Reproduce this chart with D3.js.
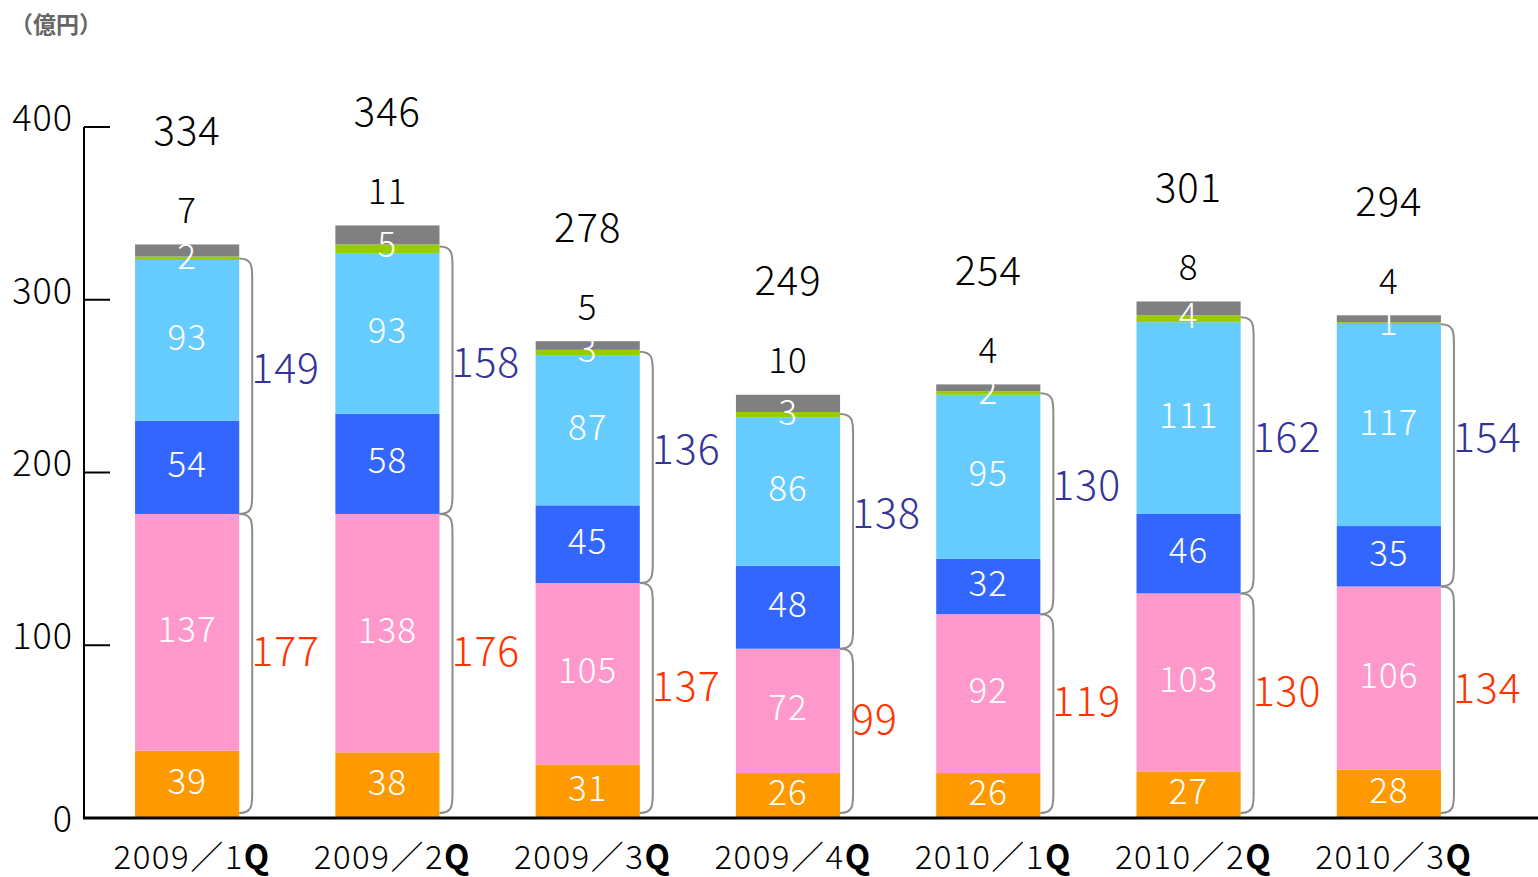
<!DOCTYPE html>
<html><head><meta charset="utf-8">
<script src="https://cdn.jsdelivr.net/npm/d3@7"></script>
<style>
body{margin:0;background:#fff;}
svg{display:block;}
text{font-family:"Noto Sans CJK JP","Noto Sans",sans-serif;}
</style></head>
<body><svg id="c" width="1538" height="877"></svg>
<script>
const categories = ["2009／1Q","2009／2Q","2009／3Q","2009／4Q","2010／1Q","2010／2Q","2010／3Q"];
const orange    = [39, 38, 31, 26, 26, 27, 28];
const pink      = [137,138,105,72, 92,103,106];
const blue      = [54, 58, 45, 48, 32, 46, 35];
const lightblue = [93, 93, 87, 86, 95,111,117];
const green     = [2, 5, 3, 3, 2, 4, 1];
const gray      = [7, 11, 5, 10, 4, 8, 4];
const totals    = [334,346,278,249,254,301,294];
const lowerSums = [177,176,137,99,119,130,134];
const upperSums = [149,158,136,138,130,162,154];
const yTicks    = [0,100,200,300,400];
const unitLabel = "（億円）";

const seriesList = [
  {key:"orange", vals:orange, color:"#ff9900"},
  {key:"pink", vals:pink, color:"#ff99cc"},
  {key:"blue", vals:blue, color:"#3366ff"},
  {key:"lightblue", vals:lightblue, color:"#66ccff"},
  {key:"green", vals:green, color:"#99cc00"},
  {key:"gray", vals:gray, color:"#808080"}
];

const svg = d3.select("#c");
const x = d3.scaleBand().domain(categories).range([87,1489]).paddingInner(0.48).paddingOuter(0.24);
const y = d3.scaleLinear().domain([0,400]).range([818,127]);

const rows = categories.map((c,i)=>{
  const r={cat:c}; seriesList.forEach(s=>r[s.key]=s.vals[i]); return r;
});
const stack = d3.stack().keys(seriesList.map(s=>s.key))(rows);

const g = svg.append("g");
stack.forEach((layer,li)=>{
  g.selectAll(null).data(layer).enter().append("rect")
    .attr("x",d=>x(d.data.cat))
    .attr("width",x.bandwidth())
    .attr("y",d=>y(d[1]))
    .attr("height",d=>y(d[0])-y(d[1]))
    .attr("fill",seriesList[li].color);
});

// segment labels (white)
stack.forEach((layer,li)=>{
  const key = seriesList[li].key;
  if(key==="gray") return;
  g.selectAll(null).data(layer).enter().append("text")
    .attr("x",d=>x(d.data.cat)+x.bandwidth()/2)
    .attr("y",d=> key==="green" ? y(d[1]) : (y(d[0])+y(d[1]))/2 - 3)
    .attr("dy","0.36em")
    .attr("text-anchor","middle")
    .attr("fill","#fff").attr("font-size",35).attr("font-weight",300).attr("letter-spacing",1)
    .text(d=>d.data[key]);
});

// gray labels and totals above bars
categories.forEach((c,i)=>{
  const top = y(stack[5][i][1]);
  const cx = x(c)+x.bandwidth()/2;
  g.append("text").attr("x",cx).attr("y",top-34).attr("dy","0.36em")
    .attr("text-anchor","middle").attr("font-size",35).attr("font-weight",300).attr("fill","#000").attr("letter-spacing",1)
    .text(gray[i]);
  g.append("text").attr("x",cx).attr("y",top-114).attr("dy","0.36em")
    .attr("text-anchor","middle").attr("font-size",40).attr("font-weight",300).attr("fill","#000").attr("letter-spacing",1)
    .text(totals[i]);
});

// brackets
function bracket(x0, yt, yb){
  const w=13, r=20;
  return `M${x0},${yt} C${x0+w},${yt} ${x0+w},${yt+r*0.4} ${x0+w},${yt+r} L${x0+w},${yb-r} C${x0+w},${yb-r*0.4} ${x0+w},${yb} ${x0},${yb}`;
}
categories.forEach((c,i)=>{
  const x0 = x(c)+x.bandwidth();
  const lowTop = y(stack[1][i][1]);
  const lowBot = y(stack[0][i][0])-5;
  const upTop = y(stack[4][i][1])+2;
  const upBot = lowTop;
  g.append("path").attr("d",bracket(x0,upTop,upBot)).attr("fill","none").attr("stroke","#8c8c8c").attr("stroke-width",2);
  g.append("path").attr("d",bracket(x0,lowTop,lowBot)).attr("fill","none").attr("stroke","#8c8c8c").attr("stroke-width",2);
  g.append("text").attr("x",x0+12).attr("y",(upTop+upBot)/2-18).attr("dy","0.36em")
    .attr("font-size",41).attr("font-weight",300).attr("fill","#333399").attr("letter-spacing",1).text(upperSums[i]);
  g.append("text").attr("x",x0+12).attr("y",(lowTop+lowBot)/2-12).attr("dy","0.36em")
    .attr("font-size",41).attr("font-weight",300).attr("fill","#ff3300").attr("letter-spacing",1).text(lowerSums[i]);
});

// axes
const ax = svg.append("g");
ax.append("line").attr("x1",84).attr("x2",84).attr("y1",y(400)).attr("y2",y(0)).attr("stroke","#000").attr("stroke-width",2);
ax.append("line").attr("x1",83).attr("x2",1538).attr("y1",y(0)).attr("y2",y(0)).attr("stroke","#000").attr("stroke-width",3);
ax.selectAll(null).data(yTicks.filter(t=>t>0)).enter().append("line")
  .attr("x1",84).attr("x2",110).attr("y1",d=>y(d)).attr("y2",d=>y(d)).attr("stroke","#000").attr("stroke-width",2);
ax.selectAll(null).data(yTicks).enter().append("text")
  .attr("x",73).attr("y",d=>y(d)-9+(d===0?10:0)).attr("dy","0.36em").attr("text-anchor","end")
  .attr("font-size",36).attr("font-weight",300).attr("fill","#000").attr("letter-spacing",1).text(d=>d);

// category labels
categories.forEach(c=>{
  const t = ax.append("text").attr("x",x(c)+x.bandwidth()/2+5).attr("y",869).attr("text-anchor","middle")
    .attr("font-size",33).attr("font-weight",300).attr("fill","#000").attr("letter-spacing",1.5);
  t.append("tspan").text(c.slice(0,-1));
  t.append("tspan").attr("font-weight",700).text(c.slice(-1));
});

svg.append("text").attr("x",10).attr("y",33).attr("font-size",23).attr("font-weight",700).attr("fill","#666").text(unitLabel);
</script></body></html>
